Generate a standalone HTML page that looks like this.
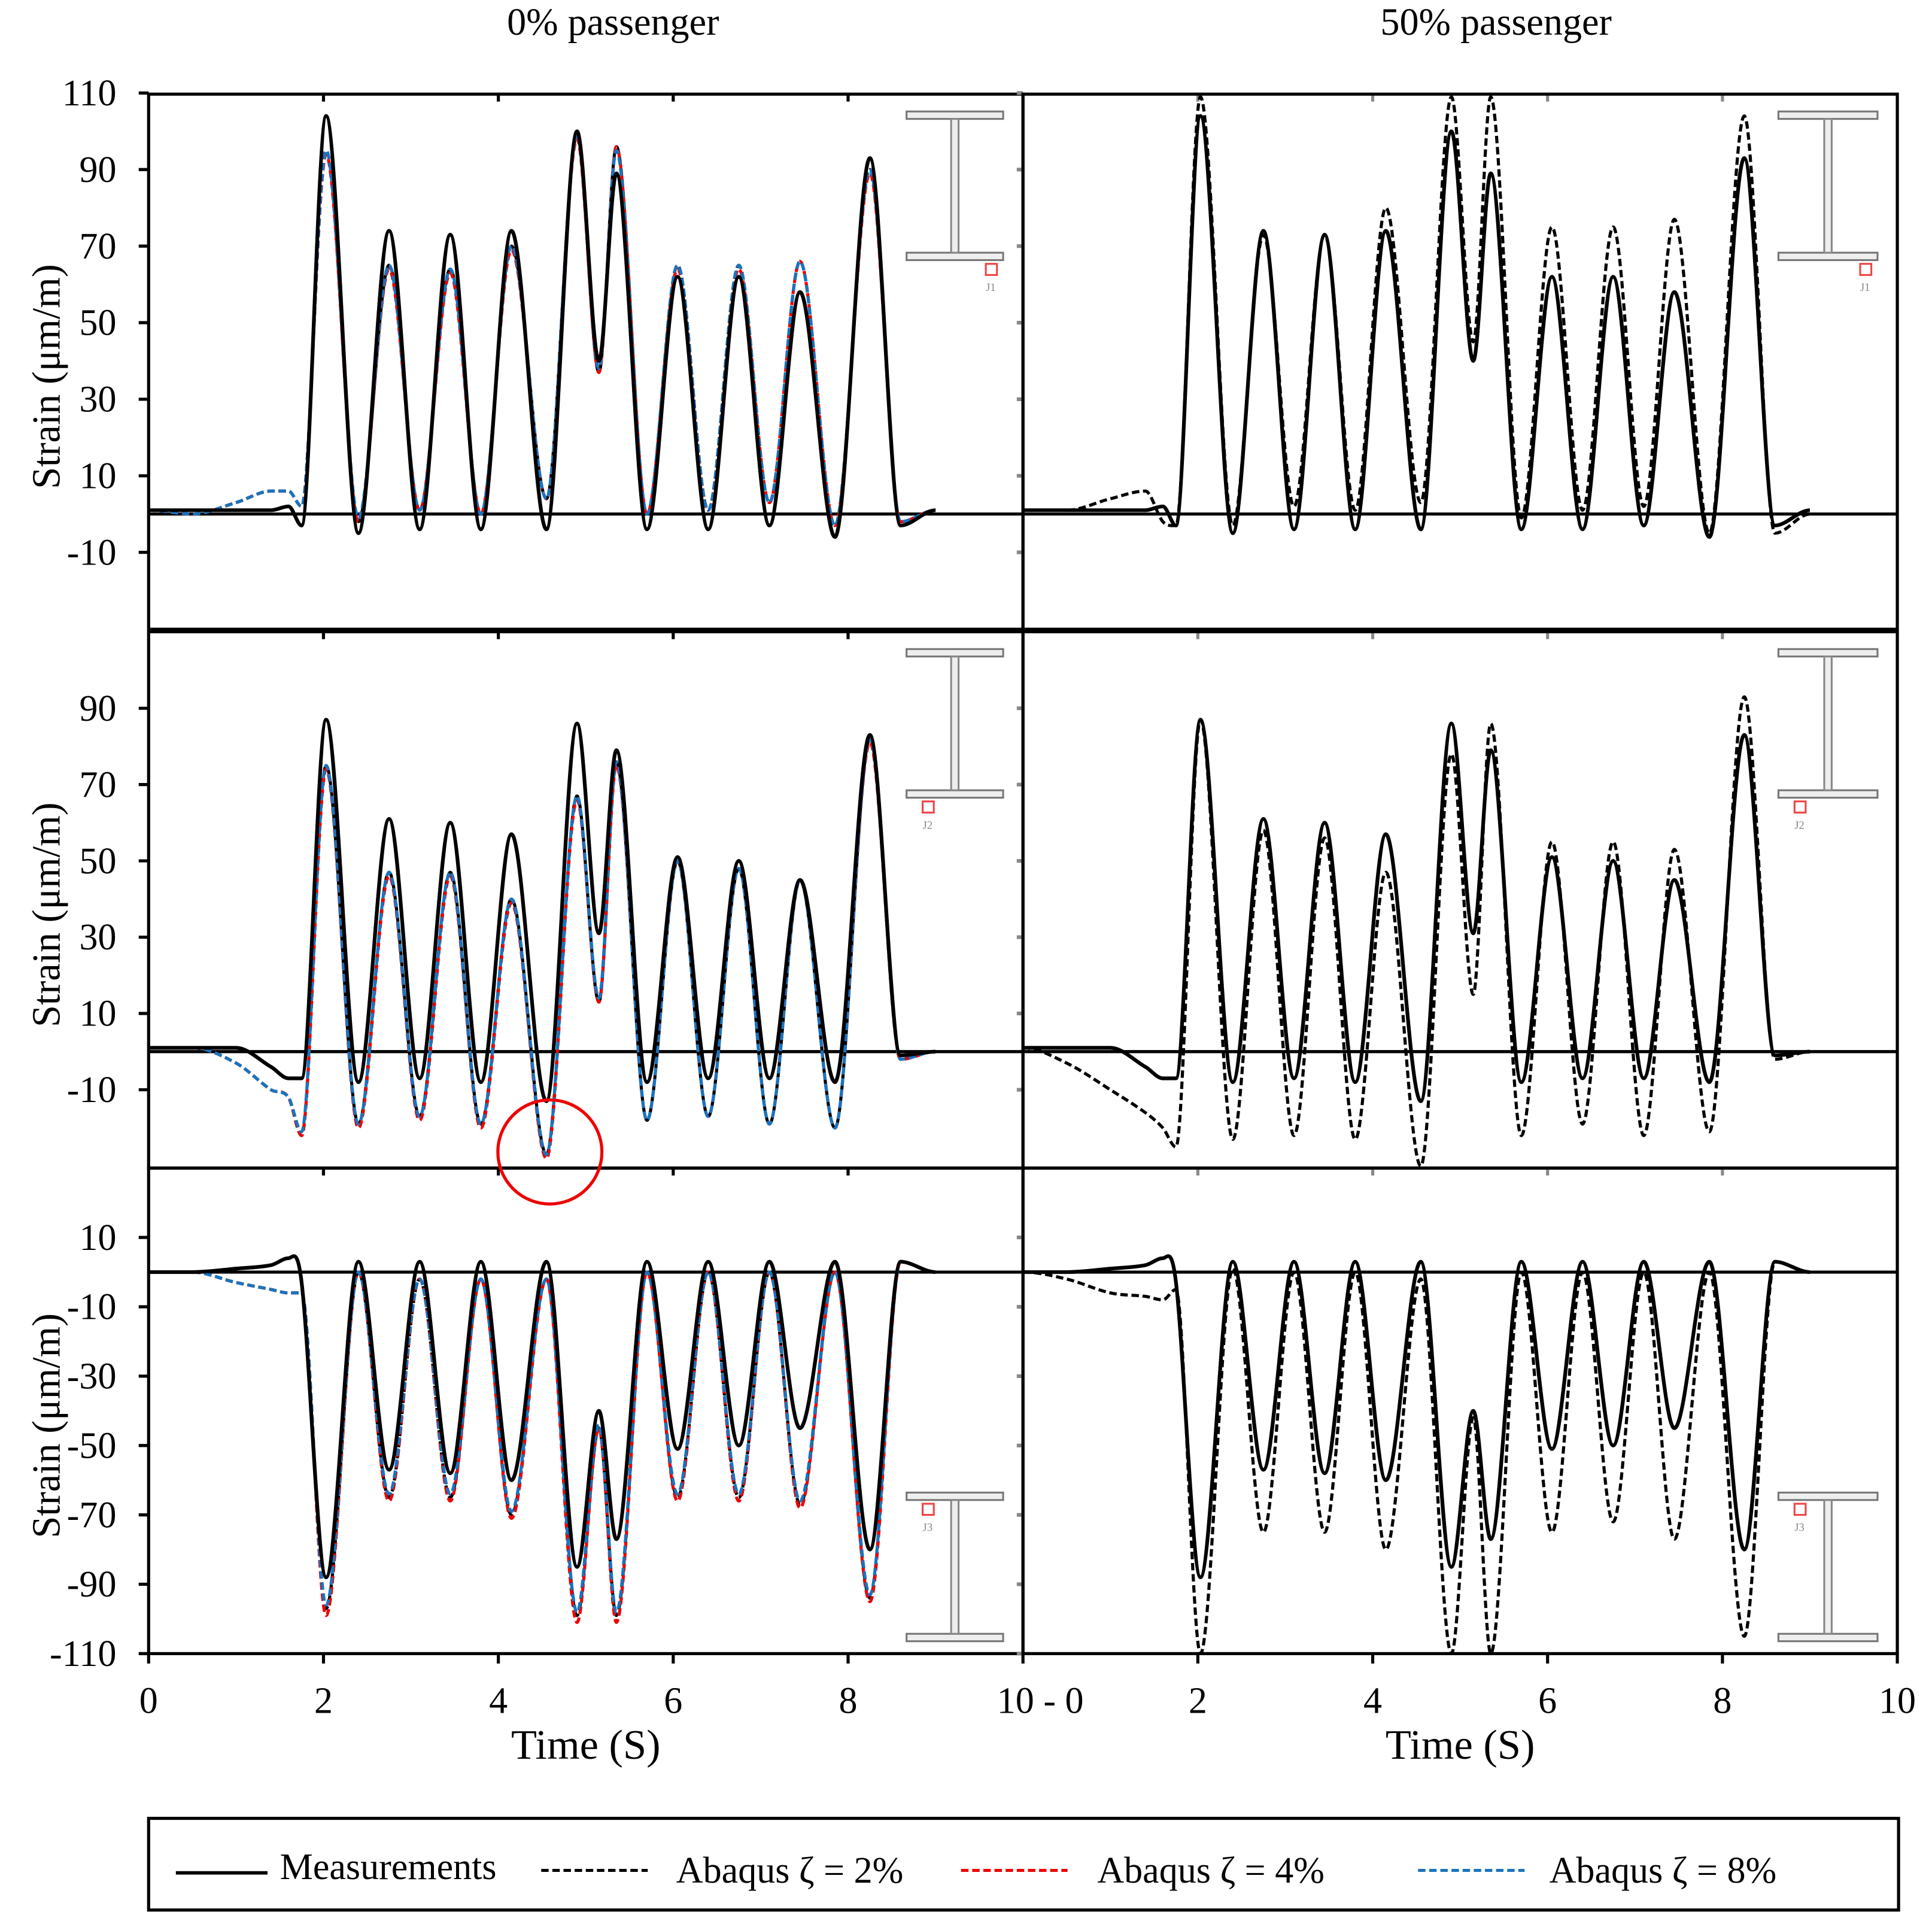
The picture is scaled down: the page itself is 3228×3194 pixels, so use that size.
<!DOCTYPE html>
<html><head><meta charset="utf-8"><style>
html,body{margin:0;padding:0;background:#fff}
svg{display:block}
text{font-family:"Liberation Serif",serif;fill:#000}
</style></head><body>
<svg id="c" xmlns="http://www.w3.org/2000/svg" width="3228" height="3194" viewBox="0 0 1560 1543.6" preserveAspectRatio="none">
<text x="495" y="28" font-size="31" text-anchor="middle">0% passenger</text>
<text x="1208" y="28" font-size="31" text-anchor="middle">50% passenger</text>
<g id="plots"></g>
<g>
<rect x="120" y="1468" width="1413" height="74" fill="none" stroke="#000" stroke-width="2.5"/>
<line x1="142" y1="1512" x2="216" y2="1512" stroke="#000" stroke-width="2.8"/>
<text x="226" y="1517" font-size="30">Measurements</text>
<line x1="437" y1="1510" x2="523" y2="1510" stroke="#000" stroke-width="2.4" stroke-dasharray="6 3"/>
<text x="546" y="1520" font-size="30">Abaqus ζ = 2%</text>
<line x1="776" y1="1510" x2="862" y2="1510" stroke="#e00" stroke-width="2.4" stroke-dasharray="6 3"/>
<text x="886" y="1520" font-size="30">Abaqus ζ = 4%</text>
<line x1="1145" y1="1510" x2="1231" y2="1510" stroke="#1874c0" stroke-width="2.4" stroke-dasharray="6 3"/>
<text x="1251" y="1520" font-size="30">Abaqus ζ = 8%</text>
</g>
</svg>
<script>
const times=[0,0.5,1.0,1.4,1.6,1.75,2.03,2.4,2.75,3.1,3.45,3.8,4.15,4.55,4.9,5.15,5.35,5.7,6.05,6.4,6.75,7.1,7.45,7.85,8.25,8.6,9.0];
const r1Meas=[1,1,1,1,2,-3,104,-5,74,-4,73,-4,74,-4,100,40,89,-4,62,-4,62,-3,58,-6,93,-3,1];
const r1Left2=[1,0,3,6,6,2,95,-2,65,1,64,0,70,4,99,37,96,0,65,1,65,3,66,-3,90,-2,1];
const r1Left4=[1,0,3,6,6,2,94,-2,64,1,63,0,69,4,98,37,96,0,64,1,64,3,66,-3,89,-2,1];
const r1Left8=[1,0,3,6,6,2,95,-1,65,1,64,0,70,4,99,38,95,0,65,1,65,3,66,-3,90,-2,1];
const r1Right=[1,1,4,6,-2,-3,109,-3,73,2,73,1,80,3,109,45,109,-1,75,1,75,2,77,-5,104,-5,0];
const r2Meas=[1,1,1,-4,-7,-7,87,-8,61,-7,60,-8,57,-13,86,31,79,-8,51,-7,50,-7,45,-8,83,-1,0];
const r2Left2=[1,1,-3,-10,-12,-22,75,-19,47,-17,47,-19,40,-27,67,13,76,-18,50,-17,48,-19,45,-20,82,-2,0];
const r2Left4=[1,1,-3,-10,-12,-22,74,-20,46,-18,46,-20,39,-28,66,13,75,-18,50,-17,48,-19,45,-20,81,-2,0];
const r2Left8=[1,1,-3,-10,-12,-21,75,-19,47,-17,47,-19,40,-27,67,14,76,-18,50,-17,48,-19,45,-20,82,-2,0];
const r2Right=[1,-3,-10,-16,-20,-25,87,-23,58,-22,56,-23,47,-30,78,15,86,-22,55,-19,55,-22,53,-21,93,-2,0];
const r3Meas=[0,0,1,2,4,-3,-88,3,-57,3,-58,3,-60,3,-85,-40,-77,3,-51,3,-50,3,-45,3,-80,3,0];
const r3Left2=[0,0,-3,-5,-6,-6,-97,0,-65,-2,-65,-2,-70,-2,-99,-45,-99,0,-65,0,-65,0,-67,0,-94,3,0];
const r3Left4=[0,0,-3,-5,-6,-6,-99,0,-66,-2,-66,-2,-71,-2,-101,-45,-101,0,-66,0,-66,0,-68,0,-95,3,0];
const r3Left8=[0,0,-3,-5,-6,-6,-96,0,-64,-2,-64,-2,-69,-2,-98,-44,-98,0,-64,0,-64,0,-66,0,-93,3,0];
const r3Right=[0,-2,-6,-7,-8,-5,-110,1,-75,0,-75,0,-80,-2,-110,-42,-110,0,-75,0,-72,0,-77,0,-105,3,0];
const xTicks=[0,2,4,6,8,10];
const row1Ticks=[110,90,70,50,30,10,-10];
const row2Ticks=[90,70,50,30,10,-10];
const row3Ticks=[10,-10,-30,-50,-70,-90,-110];

const NS="http://www.w3.org/2000/svg";
const root=document.getElementById('plots');
function mk(tag,attrs,parent){const e=document.createElementNS(NS,tag);for(const k in attrs)e.setAttribute(k,attrs[k]);(parent||root).appendChild(e);return e;}
const cols=[{x0:120,x1:826},{x0:826,x1:1532}];
const rows=[
 {top:76,bot:508,v0:0,y0:415,ppu:61.8/20,ticks:row1Ticks,meas:r1Meas,left:[r1Left2,r1Left4,r1Left8],right:r1Right,beamTop:true,tag:'J1'},
 {top:510,bot:943,v0:0,y0:849,ppu:61.6/20,ticks:row2Ticks,meas:r2Meas,left:[r2Left2,r2Left4,r2Left8],right:r2Right,beamTop:true,tag:'J2'},
 {top:943,bot:1335,v0:0,y0:1027,ppu:56/20,ticks:row3Ticks,meas:r3Meas,left:[r3Left2,r3Left4,r3Left8],right:r3Right,beamTop:false,tag:'J3'}];
function path(xs,ys){
 let d=`M${xs[0]},${ys[0]}`;
 for(let i=0;i<xs.length-1;i++){
  const p0=[xs[Math.max(0,i-1)],ys[Math.max(0,i-1)]],p1=[xs[i],ys[i]],p2=[xs[i+1],ys[i+1]],p3=[xs[Math.min(xs.length-1,i+2)],ys[Math.min(xs.length-1,i+2)]];
  let m1=(p2[1]-p0[1])/(p2[0]-p0[0]||1), m2=(p3[1]-p1[1])/(p3[0]-p1[0]||1);
  if((p1[1]-p0[1])*(p2[1]-p1[1])<=0) m1=0;
  if((p2[1]-p1[1])*(p3[1]-p2[1])<=0) m2=0;
  const dx=(p2[0]-p1[0])/3;
  d+=` C${p1[0]+dx},${p1[1]+m1*dx} ${p2[0]-dx},${p2[1]-m2*dx} ${p2[0]},${p2[1]}`;
 }
 return d;
}
rows.forEach((r,ri)=>{
 cols.forEach((c,ci)=>{
  const g=mk('g',{});
  
  
  const X=t=>c.x0+(t/10)*(c.x1-c.x0);
  const Y=v=>r.y0-(v-r.v0)*r.ppu;
  const cid=`clip${ri}${ci}`;
  const cp=mk('clipPath',{id:cid},g);mk('rect',{x:c.x0,y:r.top,width:c.x1-c.x0,height:r.bot-r.top},cp);
  const zl=mk('line',{x1:c.x0,x2:c.x1,y1:Y(0),y2:Y(0),stroke:'#000','stroke-width':2.5},g);
  
  
  r.ticks.forEach(v=>{
   const y=Y(v);
   if(ci===0){
    const tl=mk('line',{x1:c.x0-8,x2:c.x0,y1:y,y2:y,stroke:'#000','stroke-width':2.5},g);
    
    
    const tx=mk('text',{x:c.x0-26,y:y+10,'font-size':30,'text-anchor':'end'},g);tx.textContent=v;
    
    
   } else {
    const tl=mk('line',{x1:c.x0-5,x2:c.x0,y1:y,y2:y,stroke:'#888','stroke-width':3},g);
    
    
   }
  });
  xTicks.slice(1,5).forEach(t=>{
   const tl=mk('line',{x1:X(t),x2:X(t),y1:r.top,y2:r.top+6,stroke:ci?'#888':'#000','stroke-width':2.5},g);
   
   
  });
  const series=[];
  if(ci===0){series.push([r.left[0],'#000'],[r.left[1],'#e00'],[r.left[2],'#1874c0']);}
  else series.push([r.right,'#000']);
  const sg=mk('g',{'clip-path':`url(#${cid})`},g);
  series.forEach(([vals,col],si)=>{
   const p=mk('path',{d:path(times.map(X),vals.map(Y)),fill:'none',stroke:col,'stroke-width':2.5,'stroke-dasharray':'6 3'},sg);
   
   
  });
  const pm=mk('path',{d:path(times.map(X),r.meas.map(Y)),fill:'none',stroke:'#000','stroke-width':3},sg);
  
  
  const fr=mk('rect',{x:c.x0,y:r.top,width:c.x1-c.x0,height:r.bot-r.top,fill:'none',stroke:'#000','stroke-width':2.5},g);
  
  
  const bx=ci?1436:732, bw=ci?80:78;
  const bt=r.beamTop?(r.top+14):(r.top+262), bb=r.beamTop?(r.top+128):(r.top+376);
  const ib=mk('g',{},g);
  
  
  mk('rect',{x:bx,y:bt,width:bw,height:6,fill:'#eee',stroke:'#777','stroke-width':1.5},ib);
  mk('rect',{x:bx,y:bb,width:bw,height:6,fill:'#eee',stroke:'#777','stroke-width':1.5},ib);
  mk('rect',{x:bx+bw/2-3,y:bt+6,width:6,height:bb-bt-6,fill:'#eee',stroke:'#888','stroke-width':1.5},ib);
  const sy=r.beamTop?bb+9:bt+9, sx=r.beamTop?(ri===1?bx+13:bx+bw-14):bx+13;
  mk('rect',{x:sx,y:sy,width:9,height:9,fill:'none',stroke:'#e44','stroke-width':1.5},ib);
  const jt=mk('text',{x:sx+4,y:sy+22,'font-size':9,'text-anchor':'middle',fill:'#888'},ib);jt.textContent=r.tag;jt.style.fill='#888';
 });
 const yt=mk('text',{x:0,y:0,'font-size':32,'text-anchor':'middle',transform:`translate(48,${(r.top+r.bot)/2+12}) rotate(-90)`});
 yt.textContent='Strain (μm/m)';
 
 
});
const rc=mk('circle',{cx:444,cy:930,r:42,fill:'none',stroke:'#e00','stroke-width':2.5});


cols.forEach((c,ci)=>{
 xTicks.forEach(t=>{
  if(ci===1&&t===0)return;
  const x=c.x0+(t/10)*(c.x1-c.x0);
  const tl=mk('line',{x1:x,x2:x,y1:1335,y2:1343,stroke:'#000','stroke-width':2.5});
  
  
  const tx=mk('text',{x:x,y:1383,'font-size':30,'text-anchor':'middle'});
  tx.textContent=(ci===0&&t===10)?'10 - 0':t;
  if(ci===0&&t===10)tx.setAttribute('x',x+14);
  
  
 });
 const xt=mk('text',{x:(c.x0+c.x1)/2,y:1420,'font-size':34,'text-anchor':'middle'});
 xt.textContent='Time (S)';
 
 
});
</script>
</body></html>
